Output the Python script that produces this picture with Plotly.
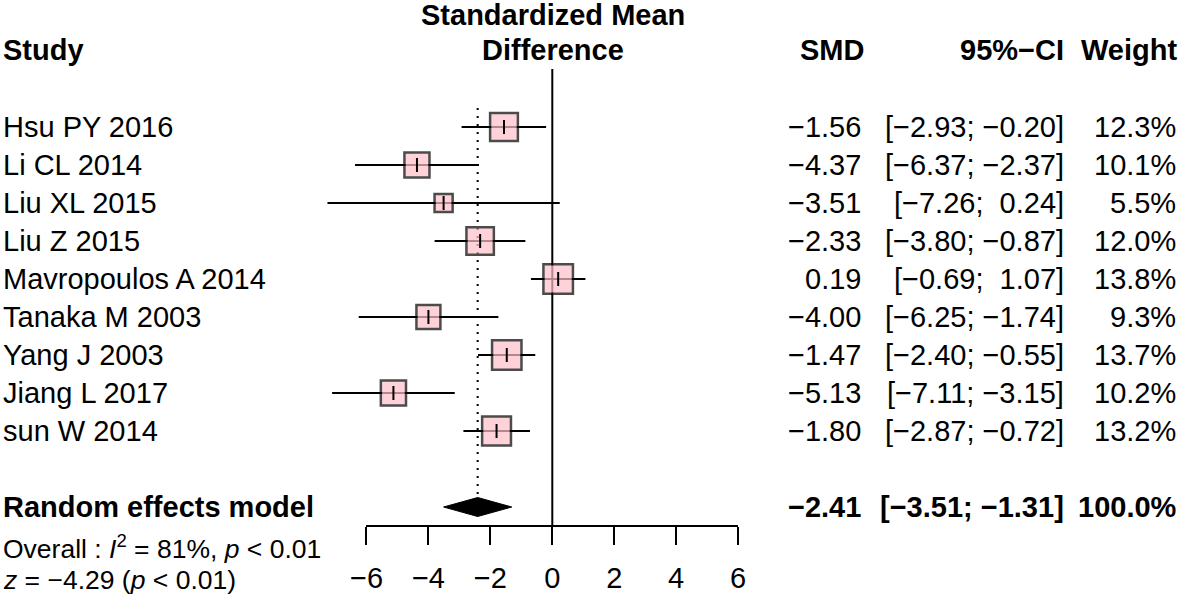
import plotly.graph_objects as go
import numpy as np

# ---------------- data ----------------
studies = ["Hsu PY 2016", "Li CL 2014", "Liu XL 2015", "Liu Z 2015",
           "Mavropoulos A 2014", "Tanaka M 2003", "Yang J 2003",
           "Jiang L 2017", "sun W 2014"]
smd = [-1.56, -4.37, -3.51, -2.33, 0.19, -4.00, -1.47, -5.13, -1.80]
ci_lower = [-2.93, -6.37, -7.26, -3.80, -0.69, -6.25, -2.40, -7.11, -2.87]
ci_upper = [-0.20, -2.37, 0.24, -0.87, 1.07, -1.74, -0.55, -3.15, -0.72]
weight = [12.3, 10.1, 5.5, 12.0, 13.8, 9.3, 13.7, 10.2, 13.2]

pooled_label = "Random effects model"
pooled_smd = -2.41
pooled_lower = -3.51
pooled_upper = -1.31
pooled_weight = 100.0

heterogeneity = "Overall : <i>I</i><sup>2</sup> = 81%, <i>p</i> &lt; 0.01"
overall_test = "<i>z</i> = −4.29 (<i>p</i> &lt; 0.01)"

tick_vals = [-6, -4, -2, 0, 2, 4, 6]
tick_text = ["−6", "−4", "−2", "0", "2", "4", "6"]

# ---------------- layout geometry ----------------
W, H = 1181, 597
PX0 = 552.3          # pixel of x = 0
PXU = 30.97          # pixels per unit
ROW0 = 127           # pixel y of first row
ROWH = 38            # pixels per row
PLOT_BOTTOM = 525

x_range = [(0 - PX0) / PXU, (W - PX0) / PXU]
y_top = ROW0 / ROWH
y_bot = -(PLOT_BOTTOM - ROW0) / ROWH

FONT = "Liberation Sans, Arial, sans-serif"
FS = 29
FS_SMALL = 26.5
LW = 2


def fmt(v):
    return f"{v:.2f}".replace("-", "−")


def fmt_ci(lo, hi):
    lo_s = fmt(lo) if lo < 0 else "\u00a0" + fmt(lo)
    hi_s = fmt(hi) if hi < 0 else "\u00a0" + fmt(hi)
    return f"[{lo_s}; {hi_s}]"


rows = [-i for i in range(len(studies))]
pooled_row = -10

fig = go.Figure()

# reference line at 0
fig.add_trace(go.Scatter(x=[0, 0], y=[(ROW0 - 69) / ROWH, y_bot], mode="lines",
                         line=dict(color="black", width=LW), hoverinfo="skip"))
# dotted line at pooled estimate
fig.add_trace(go.Scatter(x=[pooled_smd, pooled_smd], y=[0.5, pooled_row + 0.3], mode="lines",
                         line=dict(color="black", width=LW, dash="2px,6px"), hoverinfo="skip"))

# CI lines
cx, cy = [], []
for lo, hi, r in zip(ci_lower, ci_upper, rows):
    cx += [lo, hi, None]
    cy += [r, r, None]
fig.add_trace(go.Scatter(x=cx, y=cy, mode="lines", line=dict(color="black", width=LW),
                         hoverinfo="skip"))

# boxes (area proportional to weight)
sizes = [8.35 * np.sqrt(w) - 1.5 for w in weight]
fig.add_trace(go.Scatter(x=smd, y=rows, mode="markers",
                         marker=dict(symbol="square", size=sizes, color="#FFC0CB",
                                     line=dict(color="black", width=2.5)),
                         hoverinfo="skip"))
# point estimate marks
fig.add_trace(go.Scatter(x=smd, y=rows, mode="markers",
                         marker=dict(symbol="line-ns", size=10,
                                     line=dict(color="black", width=2)),
                         hoverinfo="skip"))

# diamond
dh = 0.25
fig.add_trace(go.Scatter(x=[pooled_lower, pooled_smd, pooled_upper, pooled_smd, pooled_lower],
                         y=[pooled_row, pooled_row + dh, pooled_row, pooled_row - dh, pooled_row],
                         mode="lines", fill="toself", fillcolor="black",
                         line=dict(color="black", width=1), hoverinfo="skip"))

# dummy trace for the tick axis
fig.add_trace(go.Scatter(x=tick_vals, y=[y_bot] * len(tick_vals), xaxis="x2", yaxis="y",
                         mode="markers", marker=dict(opacity=0), hoverinfo="skip"))

ann = []


def px(xpix):
    return xpix / W


def add(text, xpix, y, anchor, bold=False, yref="y", size=FS):
    ann.append(dict(text=f"<b>{text}</b>" if bold else text, x=px(xpix), xref="paper",
                    y=y, yref=yref, xanchor=anchor, yanchor="middle", showarrow=False,
                    font=dict(family=FONT, size=size, color="black")))


# headers
hdr = 2.03
add("Study", 1, hdr, "left", True)
add("Standardized Mean", 552.5, 2.96, "center", True)
add("Difference", 552.5, hdr, "center", True)
add("SMD", 866, hdr, "right", True)
add("95%−CI", 1066, hdr, "right", True)
add("Weight", 1179, hdr, "right", True)

for s, m, lo, hi, w, r in zip(studies, smd, ci_lower, ci_upper, weight, rows):
    add(s, 1, r, "left")
    add(fmt(m), 863, r, "right")
    add(fmt_ci(lo, hi), 1066, r, "right")
    add(f"{w:.1f}%", 1178, r, "right")

add(pooled_label, 1, pooled_row, "left", True)
add(fmt(pooled_smd), 863, pooled_row, "right", True)
add(fmt_ci(pooled_lower, pooled_upper), 1066, pooled_row, "right", True)
add(f"{pooled_weight:.1f}%", 1179, pooled_row, "right", True)

# lines below the axis (paper coordinates: 0 = plot bottom, 1 = plot top)
add(heterogeneity, 1, (PLOT_BOTTOM - 547) / PLOT_BOTTOM, "left", yref="paper", size=FS_SMALL)
add(overall_test, 1, (PLOT_BOTTOM - 580) / PLOT_BOTTOM, "left", yref="paper", size=FS_SMALL)

fig.update_layout(
    width=W, height=H,
    margin=dict(l=0, r=0, t=0, b=H - PLOT_BOTTOM, pad=0, autoexpand=False),
    paper_bgcolor="white", plot_bgcolor="rgba(0,0,0,0)",
    showlegend=False,
    font=dict(family=FONT, size=FS, color="black"),
    xaxis=dict(range=x_range, domain=[0, 1], visible=False, fixedrange=True, automargin=False),
    xaxis2=dict(range=[-6, 6], domain=[px(PX0 - 6 * PXU), px(PX0 + 6 * PXU)],
                anchor="y", side="bottom", automargin=False,
                showline=True, linecolor="black", linewidth=LW,
                ticks="outside", ticklen=18, tickwidth=LW, tickcolor="black",
                tickvals=tick_vals, ticktext=tick_text, ticklabelstandoff=8,
                tickfont=dict(family=FONT, size=FS, color="black"),
                showgrid=False, zeroline=False, fixedrange=True),
    yaxis=dict(range=[y_bot, y_top], visible=False, fixedrange=True, automargin=False),
    annotations=ann,
)

fig.write_html(
    "out.html",
    config={"displayModeBar": False, "responsive": False, "staticPlot": True},
    post_script=("var gd=document.getElementById('{plot_id}');"
                 "document.body.style.margin='0';document.body.style.overflow='hidden';"
                 "gd.style.position='absolute';gd.style.left='0px';gd.style.top='0px';"),
)
